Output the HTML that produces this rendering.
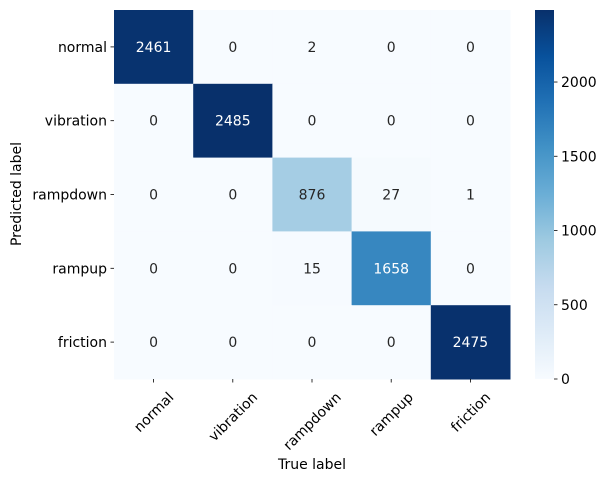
<!DOCTYPE html>
<html><head><meta charset="utf-8"><style>
body{margin:0;background:#fff}
svg{display:block;font-family:"DejaVu Sans","Liberation Sans",sans-serif;font-size:14px}
</style></head><body>
<svg id="chart" width="608" height="481" viewBox="0 0 608 481">
<defs><linearGradient id="cbg" x1="0" y1="1" x2="0" y2="0"></linearGradient></defs>
<g id="cells"></g>
<g id="xt"></g>
<g id="yt"></g>
<g id="cb"></g>
<text x="312" y="469" text-anchor="middle">True label</text>
<text transform="translate(21,194) rotate(-90)" text-anchor="middle">Predicted label</text>
</svg>
<script>
const categories = ["normal","vibration","rampdown","rampup","friction"];
const row0 = [2461,0,2,0,0];
const row1 = [0,2485,0,0,0];
const row2 = [0,0,876,27,1];
const row3 = [0,0,15,1658,0];
const row4 = [0,0,0,0,2475];
const matrix = [row0,row1,row2,row3,row4];
const cbTicks = [0,500,1000,1500,2000];

const NS="http://www.w3.org/2000/svg";
const L=114,T=10,R=510,B=379;
const n=categories.length, cw=(R-L)/n, ch=(B-T)/n;
const vmin=0, vmax=Math.max(...matrix.flat());
const stops=["#f7fbff","#deebf7","#c6dbef","#9ecae1","#6baed6","#4292c6","#2171b5","#08519c","#08306b"].map(h=>[1,3,5].map(i=>parseInt(h.substr(i,2),16)));
function cmap(t){t=Math.max(0,Math.min(1,t));const p=t*8,i=Math.min(7,Math.floor(p)),f=p-i;return stops[i].map((c,k)=>c+(stops[i+1][k]-c)*f);}
function rgb(c){return "rgb("+c.map(Math.round).join(",")+")";}
function lum(c){const v=c.map(x=>{x/=255;return x<=0.03928?x/12.92:Math.pow((x+0.055)/1.055,2.4)});return 0.2126*v[0]+0.7152*v[1]+0.0722*v[2];}
function mk(tag,at,parent){const e=document.createElementNS(NS,tag);for(const k in at)e.setAttribute(k,at[k]);parent.appendChild(e);return e;}
const cells=document.getElementById('cells');
matrix.forEach((row,r)=>row.forEach((v,c)=>{
  const col=cmap((v-vmin)/(vmax-vmin));
  const rect=mk('rect',{x:L+c*cw,y:T+r*ch,width:cw+0.5,height:ch+0.5,fill:rgb(col)},cells);
  
  
  const t=mk('text',{x:L+(c+0.5)*cw,y:T+(r+0.5)*ch+5,'text-anchor':'middle',fill:lum(col)>0.408?'#262626':'#ffffff'},cells);
  
  
  t.textContent=v;
}));
const xt=document.getElementById('xt'), yt=document.getElementById('yt');
categories.forEach((name,i)=>{
  const x=L+(i+0.5)*cw;
  mk('line',{x1:x,y1:B,x2:x,y2:B+3.5,stroke:'#000','stroke-width':0.8},xt);
  const t=mk('text',{'text-anchor':'middle',x:0,y:0},xt);
  
  
  t.textContent=name;
  const len=t.getComputedTextLength(), h=13;
  const bb=(len+h)*0.7071;
  t.setAttribute('transform','translate('+x+','+(B+11+bb/2)+') rotate(-45) translate(0,5)');
  const y=T+(i+0.5)*ch;
  mk('line',{x1:L-3.5,y1:y,x2:L,y2:y,stroke:'#000','stroke-width':0.8},yt);
  const ty=mk('text',{x:L-7,y:y+5,'text-anchor':'end'},yt);
  
  
  ty.textContent=name;
});
const cb=document.getElementById('cb');
const CL=535,CR=554;
const grad=document.getElementById('cbg');
for(let k=0;k<=8;k++)mk('stop',{offset:k/8,'stop-color':rgb(stops[k])},grad);
const bar=mk('rect',{x:CL,y:T,width:CR-CL,height:B-T,fill:'url(#cbg)'},cb);


cbTicks.forEach(v=>{
  const y=B-(v-vmin)/(vmax-vmin)*(B-T);
  mk('line',{x1:CR,y1:y,x2:CR+3.5,y2:y,stroke:'#000','stroke-width':0.8},cb);
  const t=mk('text',{x:CR+7,y:y+5},cb);
  
  
  t.textContent=v;
});
</script>
</body></html>
